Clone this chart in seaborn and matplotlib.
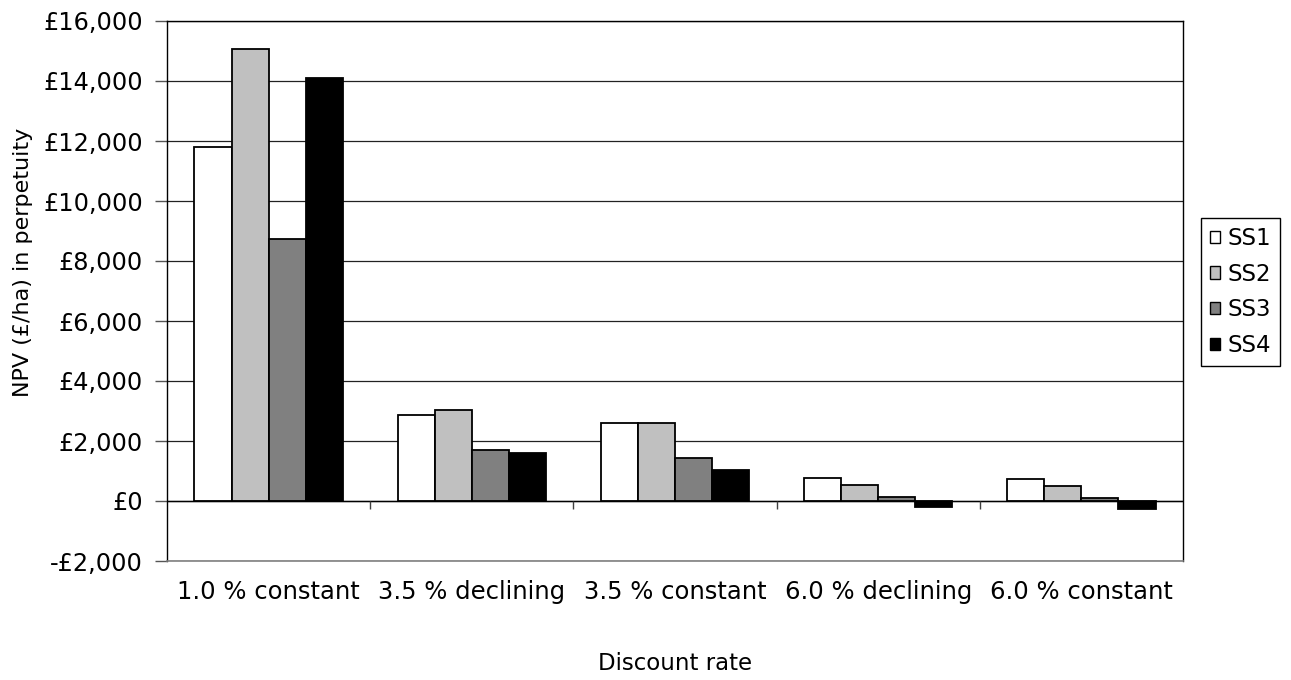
import matplotlib
matplotlib.use("Agg")
import matplotlib.pyplot as plt
import matplotlib.ticker as mticker
from matplotlib.patches import Patch
import pandas as pd
import seaborn as sns

# NPV per hectare in perpetuity
rates = ["1.0 % constant", "3.5 % declining", "3.5 % constant",
         "6.0 % declining", "6.0 % constant"]
series = ["SS1", "SS2", "SS3", "SS4"]
ss1 = [11800, 2870, 2600, 770, 730]
ss2 = [15050, 3030, 2600, 550, 500]
ss3 = [8750, 1700, 1430, 140, 110]
ss4 = [14100, 1600, 1030, -210, -250]
colors = ["#FFFFFF", "#C0C0C0", "#808080", "#000000"]

rows = []
for name, vals in zip(series, [ss1, ss2, ss3, ss4]):
    for r, v in zip(rates, vals):
        rows.append({"rate": r, "series": name, "npv": v})
df = pd.DataFrame(rows)

sns.set_theme(style="white")
plt.rcParams["font.family"] = ["DejaVu Sans"]
plt.rcParams["text.color"] = "black"
plt.rcParams["axes.labelcolor"] = "black"
plt.rcParams["xtick.color"] = "black"
plt.rcParams["ytick.color"] = "black"

fig = plt.figure(figsize=(12.91, 6.8), dpi=100)
ax = fig.add_axes([167 / 1291, 1 - 561 / 680, (1183 - 167) / 1291, (561 - 21) / 680])

# gridlines behind bars
ax.set_axisbelow(True)
ax.yaxis.grid(True, color="#222222", linewidth=0.9)
ax.xaxis.grid(False)

sns.barplot(data=df, x="rate", y="npv", hue="series", order=rates,
            hue_order=series, palette=colors, width=0.73,
            edgecolor="black", linewidth=1.3, legend=False, ax=ax)

ax.set_ylim(-2000, 16000)
ax.set_xlim(-0.5, len(rates) - 0.5)
ax.yaxis.set_major_locator(mticker.MultipleLocator(2000))
ax.yaxis.set_major_formatter(mticker.FuncFormatter(
    lambda v, _: ("-£" if v < 0 else "£") + f"{abs(v):,.0f}"))

# zero line with category tick marks hanging below it
ax.axhline(0, color="black", linewidth=1.0, zorder=1.5)
ax.vlines([i + 0.5 for i in range(len(rates) - 1)], -270, 0,
          color="#404040", linewidth=1.0)

for side in ["left", "top", "right"]:
    ax.spines[side].set_visible(True)
    ax.spines[side].set_color("black")
    ax.spines[side].set_linewidth(1.0)
ax.spines["bottom"].set_color("#808080")
ax.spines["bottom"].set_linewidth(1.2)

ax.tick_params(axis="y", which="major", left=True, length=9, width=1,
               color="#555555", labelcolor="black", pad=8.3, labelsize=17.3)
ax.tick_params(axis="x", length=0, pad=14, labelcolor="black", labelsize=17.5)

ax.set_xlabel("Discount rate", fontsize=16.5, labelpad=0)
ax.xaxis.set_label_coords(0.5, -(652 - 561) / 540)
ax.set_ylabel("NPV (£/ha) in perpetuity", fontsize=16)
ax.yaxis.set_label_coords(-(167 - 33) / 1016, (561 - 262) / 540)

handles = [Patch(facecolor=c, edgecolor="black", linewidth=1.0) for c in colors]
fig.legend(handles, series, loc="center left",
           bbox_to_anchor=(1201 / 1291, 1 - 292 / 680),
           fontsize=16.5, frameon=True, fancybox=False, edgecolor="black",
           framealpha=1, handlelength=0.45, handleheight=0.45,
           handletextpad=0.3, labelspacing=0.55, borderpad=0.4,
           borderaxespad=0)

fig.savefig("out.png", dpi=100)
